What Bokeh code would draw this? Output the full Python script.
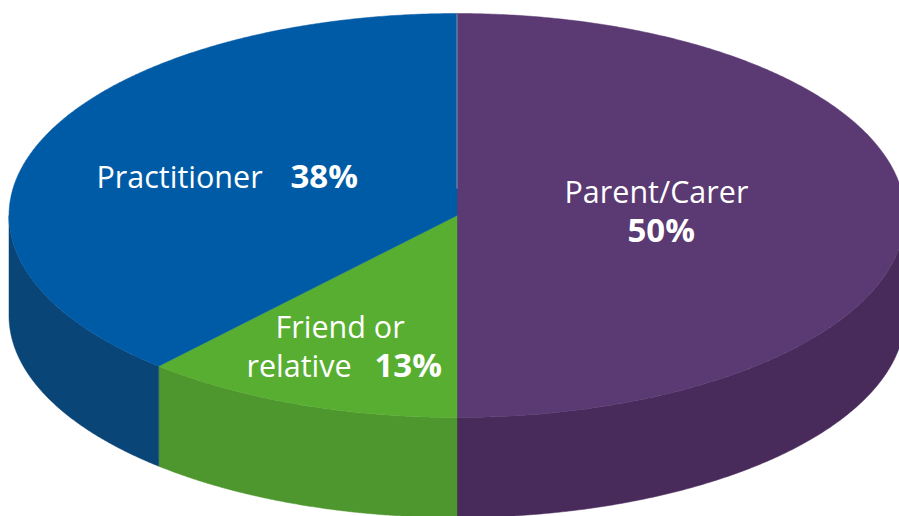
import numpy as np
from bokeh.plotting import figure
from bokeh.models import Range1d
from bokeh.core.properties import value
from bokeh.embed import file_html
from bokeh.resources import INLINE

# Slice order runs clockwise from twelve o'clock
categories = ["Parent/Carer", "Friend or relative", "Practitioner"]
shares = [50.0, 11.6, 38.4]   # geometry as drawn in the picture
top_colors = ["#5B3973", "#58AE31", "#005BA6"]
side_colors = ["#482B5B", "#4E962E", "#0A4578"]

label_lines = ["Practitioner", "38%", "Parent/Carer", "50%", "Friend or", "relative", "13%"]
label_x = [96, 290, 564, 627, 275, 246, 374]
label_y = [175, 175, 190, 229, 325, 364, 364]
label_bold = [False, True, False, True, False, False, True]

CX, CY, RX, RY, DEPTH = 456.5, 215.0, 448.0, 202.0, 100.0
FONT = "Open Sans"


def rim(t):
    return CX + RX * np.sin(t), CY - RY * np.cos(t)


p = figure(width=899, height=516, output_backend="svg", toolbar_location=None,
           x_range=Range1d(0, 899), y_range=Range1d(516, 0), min_border=0,
           outline_line_color=None, background_fill_color="white")
p.axis.visible = False
p.grid.visible = False

edges = np.radians(np.cumsum([0.0] + shares) * 3.6)

# Side wall: only the part of each slice on the near half of the rim
for a, b, col in zip(edges[:-1], edges[1:], side_colors):
    lo, hi = max(a, np.pi / 2), min(b, 3 * np.pi / 2)
    if hi <= lo:
        continue
    t = np.linspace(lo, hi, 200)
    x, y = rim(t)
    p.patch(np.r_[x, x[::-1]], np.r_[y, y[::-1] + DEPTH], fill_color=col,
            line_color=col, line_width=0.5)

# Top face
for a, b, col in zip(edges[:-1], edges[1:], top_colors):
    t = np.linspace(a, b, 400)
    x, y = rim(t)
    p.patch(np.r_[CX, x], np.r_[CY, y], fill_color=col, line_color=col, line_width=0.5)

# Fine pale seam between the blue and purple faces
p.line([CX, CX], [CY - RY, CY - 27], line_color="#7A86B0", line_width=1.2)

for txt, x, y, bold in zip(label_lines, label_x, label_y, label_bold):
    p.text([x], [y], text=[txt], text_color="white", text_font=value(FONT),
           text_font_size=value("33px" if bold else "30.5px"), text_align="left",
           text_baseline="middle", text_font_style="bold" if bold else "normal")

open("out.html", "w").write(file_html(p, INLINE))
